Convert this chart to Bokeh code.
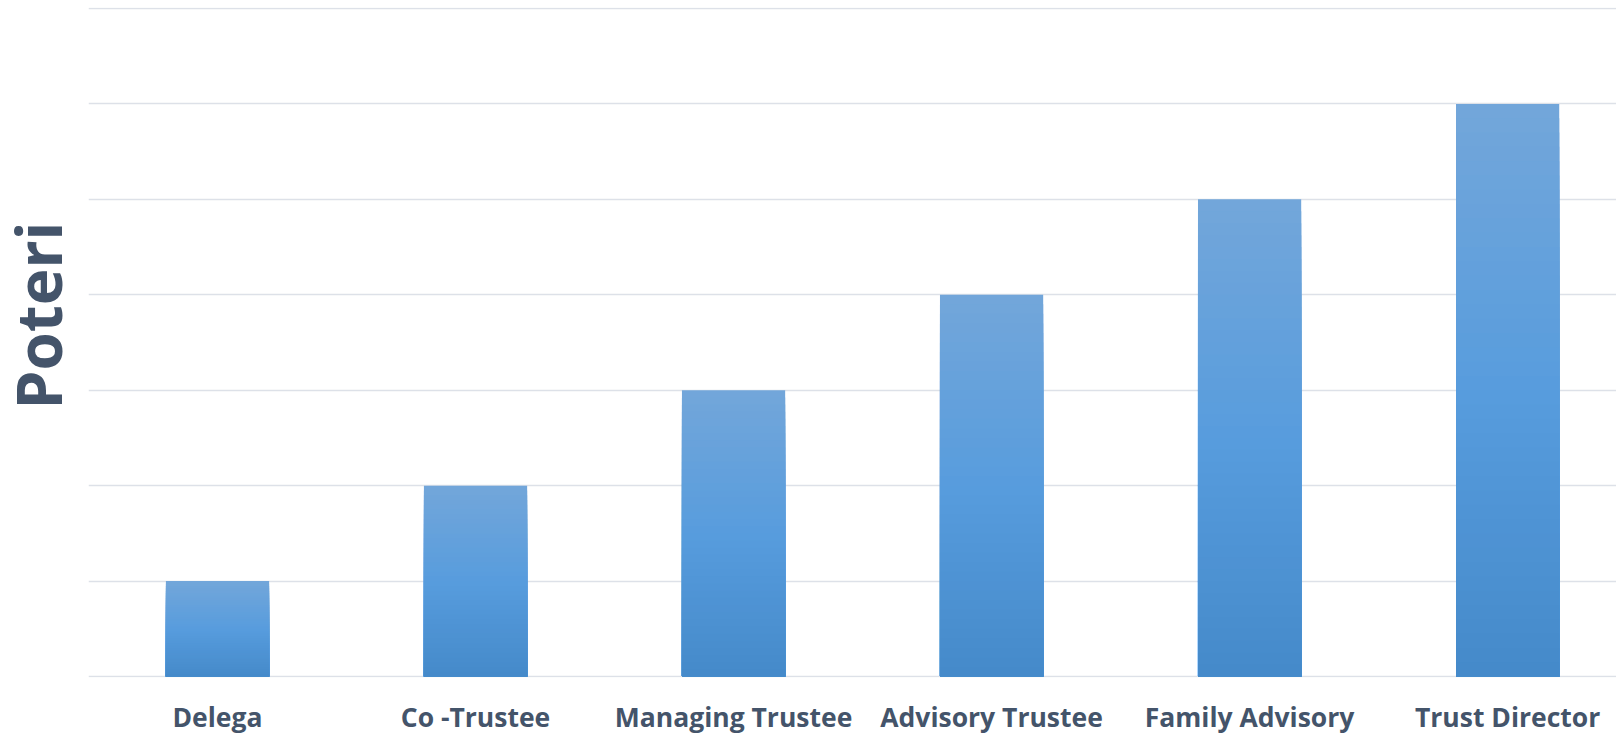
import math
from bokeh.plotting import figure
from bokeh.layouts import row
from bokeh.models import FixedTicker, Range1d, ColumnDataSource, Label
from bokeh.embed import file_html
from bokeh.resources import INLINE

categories = ["Delega", "Co -Trustee", "Managing Trustee", "Advisory Trustee", "Family Advisory", "Trust Director"]
values = [1, 2, 3, 4, 5, 6]
y_ticks = [0, 1, 2, 3, 4, 5, 6, 7]
axis_title = "Poteri"

TEXT = "#44546a"
GRID = "#dde1e8"
stops = [(0.0, (0x44, 0x89, 0xc9)), (0.5, (0x57, 0x9c, 0xdd)), (1.0, (0x72, 0xa6, 0xda))]


def grad(t):
    for (t0, c0), (t1, c1) in zip(stops[:-1], stops[1:]):
        if t <= t1:
            f = (t - t0) / (t1 - t0)
            return "#%02x%02x%02x" % tuple(int(round(a + (b - a) * f)) for a, b in zip(c0, c1))
    return "#%02x%02x%02x" % stops[-1][1]


xs = list(range(len(categories)))

# left strip holding the vertical axis title
side = figure(width=88, height=737, output_backend="svg", toolbar_location=None,
              x_range=Range1d(0, 1), y_range=Range1d(0, 1),
              min_border_left=0, min_border_right=0, min_border_top=0, min_border_bottom=0)
side.axis.visible = False
side.grid.visible = False
side.outline_line_color = None
side.background_fill_color = "white"
side.border_fill_color = "white"
side.add_layout(Label(x=37.5, y=362, x_units="screen", y_units="screen", text=axis_title,
                      angle=math.pi / 2, text_align="center", text_baseline="middle",
                      text_font="Open Sans", text_font_style="bold", text_font_size="62px",
                      text_color=TEXT))

p = figure(width=1528, height=737, output_backend="svg", toolbar_location=None,
           x_range=Range1d(-0.5, 5.422), y_range=Range1d(-0.01, 7.01),
           min_border_left=0, min_border_right=0, min_border_top=7, min_border_bottom=56)
p.outline_line_color = None
p.background_fill_color = "white"
p.border_fill_color = "white"

n = 40
for k in range(n):
    frac = (n - k) / n
    color = grad(frac)
    src = ColumnDataSource(dict(x=xs, top=[v * frac for v in values]))
    p.vbar(x="x", top="top", bottom=0, width=0.4, source=src, fill_color=color, line_color=None)

p.xaxis.ticker = FixedTicker(ticks=xs)
p.xaxis.major_label_overrides = {i: c for i, c in enumerate(categories)}
p.xaxis.axis_line_color = None
p.xaxis.major_tick_line_color = None
p.xaxis.major_tick_out = 0
p.xaxis.major_tick_in = 0
p.xaxis.major_label_standoff = 21
p.xaxis.major_label_text_font = "Open Sans"
p.xaxis.major_label_text_font_style = "bold"
p.xaxis.major_label_text_font_size = "26.5px"
p.xaxis.major_label_text_color = TEXT
p.xgrid.grid_line_color = None

p.yaxis.visible = False
p.ygrid.ticker = FixedTicker(ticks=y_ticks)
p.ygrid.grid_line_color = GRID
p.ygrid.grid_line_width = 1.5

layout = row(side, p, spacing=0)
open("out.html", "w").write(file_html(layout, INLINE))
